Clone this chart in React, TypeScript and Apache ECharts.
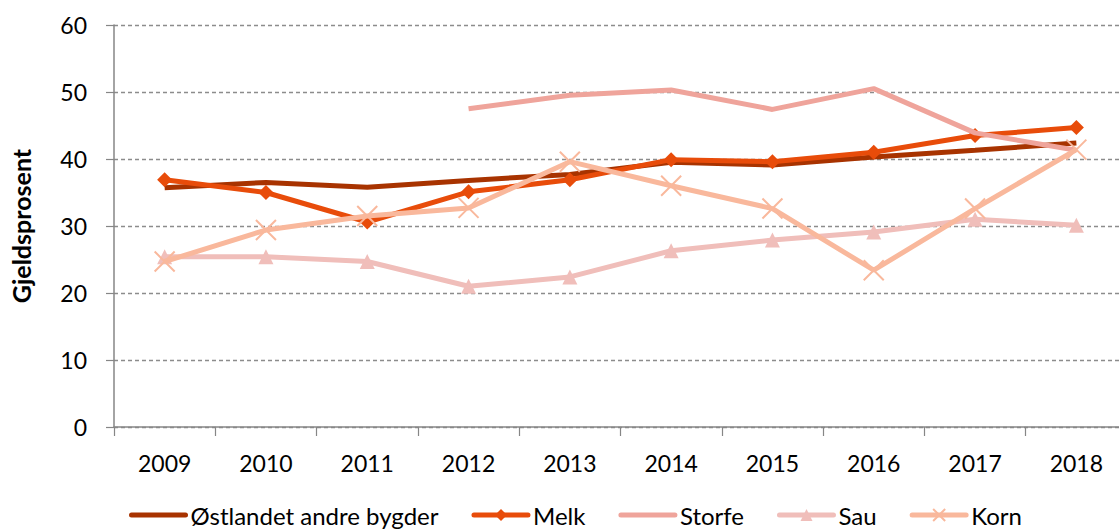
import React, { useEffect, useRef } from "react";
import * as echarts from "echarts";

const years = ["2009", "2010", "2011", "2012", "2013", "2014", "2015", "2016", "2017", "2018"];
const ostlandet = [35.7, 36.5, 35.8, 36.8, 37.7, 39.5, 39.1, 40.3, 41.3, 42.4];
const melk = [36.9, 35.0, 30.6, 35.1, 36.9, 39.9, 39.6, 41.0, 43.5, 44.7];
const storfe = [null, null, null, 47.5, 49.5, 50.3, 47.4, 50.5, 43.9, 41.3];
const sau = [25.4, 25.4, 24.7, 21.0, 22.4, 26.3, 27.9, 29.1, 31.0, 30.1];
const korn = [24.7, 29.4, 31.5, 32.7, 39.6, 36.0, 32.6, 23.4, 32.6, 41.4];
const yTicks = { min: 0, max: 60, interval: 10 };

const FONT = "Lato, 'Open Sans', sans-serif";
const X_SYMBOL = "path://M0,0L10,10M10,0L0,10";

export default function App() {
  const ref = useRef<HTMLDivElement>(null);
  useEffect(() => {
    if (!ref.current) return;
    const chart = echarts.init(ref.current, null, { renderer: "svg" });
    const lineW = 5;
    const hidden = { color: "rgba(0,0,0,0)", borderWidth: 0, opacity: 0 };
    chart.setOption({
      animation: false,
      textStyle: { fontFamily: FONT },
      grid: {
        left: 114,
        top: 25,
        bottom: 104,
        right: -8,
        containLabel: false,
        outerBoundsMode: "none",
      },
      legend: {
        left: 124,
        top: 498,
        itemWidth: 54,
        itemHeight: 15,
        itemGap: 33,
        lineStyle: { width: 5, cap: "round" },
        textStyle: { fontSize: 24, color: "#000", fontFamily: FONT },
        data: [
          { name: "Østlandet andre bygder", itemStyle: hidden },
          "Melk",
          { name: "Storfe", itemStyle: hidden },
          "Sau",
          "Korn",
        ],
      },
      xAxis: {
        type: "category",
        data: years,
        boundaryGap: true,
        axisLine: { lineStyle: { color: "#868686", width: 1.5 } },
        axisTick: { show: true, length: 9, lineStyle: { color: "#868686", width: 1.2 } },
        axisLabel: { color: "#000", fontSize: 23, margin: 24, fontFamily: FONT },
        splitLine: { show: false },
      },
      yAxis: {
        type: "value",
        min: yTicks.min,
        max: yTicks.max,
        interval: yTicks.interval,
        name: "Gjeldsprosent",
        nameLocation: "middle",
        nameGap: 81,
        nameRotate: 90,
        nameTextStyle: { fontSize: 25, fontWeight: "bold", color: "#000", fontFamily: FONT },
        axisLine: { show: true, lineStyle: { color: "#868686", width: 1.5 } },
        axisTick: { show: true, length: 8, lineStyle: { color: "#868686", width: 1.2 } },
        axisLabel: { color: "#000", fontSize: 23, margin: 27, fontFamily: FONT },
        splitLine: { show: true, lineStyle: { color: "#8c8c8c", width: 1.3, type: [4, 3] } },
      },
      series: [
        {
          name: "Østlandet andre bygder",
          type: "line",
          data: ostlandet,
          symbol: "none",
          lineStyle: { color: "#A83300", width: lineW },
          itemStyle: { color: "#A83300" },
          z: 2,
        },
        {
          name: "Melk",
          type: "line",
          data: melk,
          symbol: "diamond",
          symbolSize: 15,
          lineStyle: { color: "#E84C0A", width: lineW },
          itemStyle: { color: "#E84C0A" },
          z: 3,
        },
        {
          name: "Storfe",
          type: "line",
          data: storfe,
          symbol: "none",
          lineStyle: { color: "#EFA49B", width: lineW },
          itemStyle: { color: "#EFA49B" },
          z: 4,
        },
        {
          name: "Sau",
          type: "line",
          data: sau,
          symbol: "triangle",
          symbolSize: 15,
          lineStyle: { color: "#F0BEBA", width: lineW },
          itemStyle: { color: "#F0BEBA" },
          z: 5,
        },
        {
          name: "Korn",
          type: "line",
          data: korn,
          symbol: X_SYMBOL,
          symbolSize: 20,
          lineStyle: { color: "#F9B89C", width: lineW },
          itemStyle: { color: "#F9B89C", borderColor: "#F9B89C", borderWidth: 2 },
          z: 6,
        },
      ],
    });
    return () => chart.dispose();
  }, []);
  return (
    <div
      ref={ref}
      style={{ position: "absolute", left: 0, top: 0, width: 1119, height: 531 }}
    />
  );
}
